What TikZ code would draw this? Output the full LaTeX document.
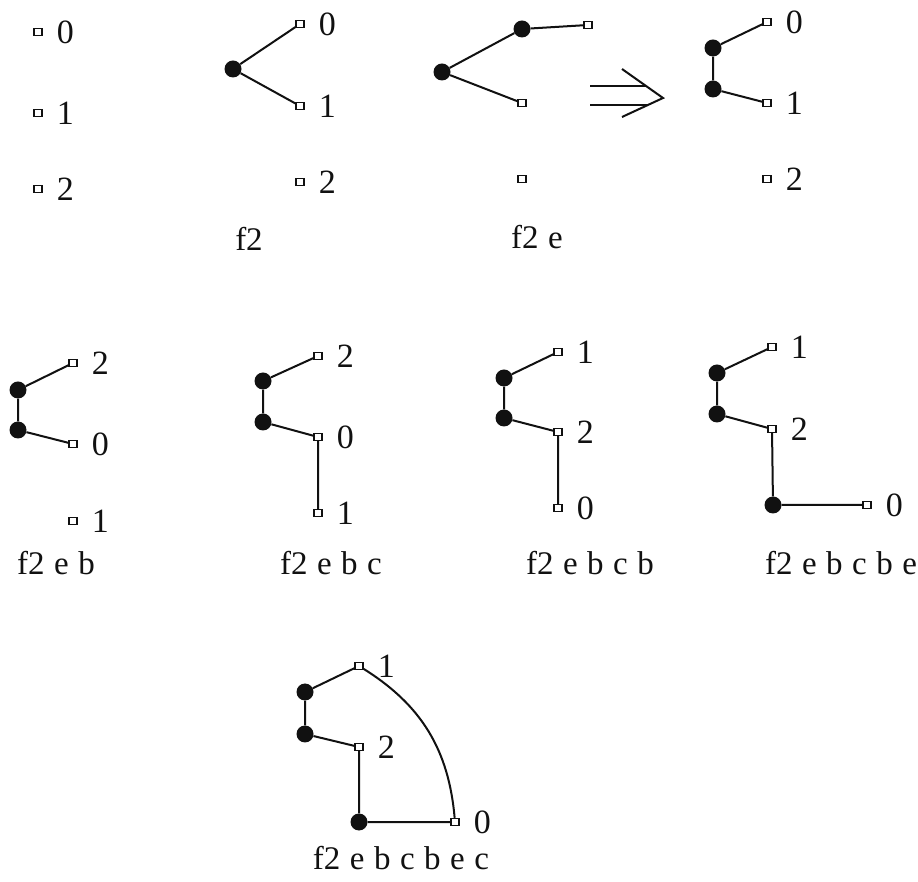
\documentclass[tikz,border=0pt]{standalone}
\usepackage{fontspec}
\setmainfont{Liberation Serif}
\usepackage{xcolor}
\usetikzlibrary{positioning}
\definecolor{ink}{HTML}{111111}
\newcommand\capfont{\fontsize{33}{40}\selectfont\spaceskip=9.5pt\relax}
\tikzset{
  leaf/.style={draw=ink, fill=white, rectangle, line width=1.4pt,
               minimum width=8pt, minimum height=7pt, inner sep=0pt},
  joint/.style={circle, fill=ink, minimum size=17pt, inner sep=0pt},
  edge/.style={draw=ink, line width=2pt},
  lbl/.style={font=\fontsize{34}{40}\selectfont, text=ink, inner sep=0pt},
  caption/.style={font=\capfont, text=ink, inner sep=0pt},
  every label/.style={lbl}, label distance=14pt
}
\begin{document}
\begin{tikzpicture}[x=1pt,y=1pt]
        \useasboundingbox (0,0) rectangle (918,881);

        % row 1
        \foreach \y/\n in {849/0,768/1,692/2}
          {\node[leaf,label=right:\n] (p1s\n) at (38,\y) {};}

        \node[joint] (p2d) at (233,812) {};
        \node[leaf,label=right:0] (p2s0) at (300,857) {};
        \node[leaf,label=right:1] (p2s1) at (300,775) {};
        \node[leaf,label=right:2] (p2s2) at (300,699) {};
        \draw[edge] (p2d) -- (p2s0);
        \draw[edge] (p2d) -- (p2s1);
        \node[caption] (p2c) at (249,642) {f2};

        \node[joint] (p3dl) at (442,809) {};
        \node[joint] (p3du) at (522,852) {};
        \node[leaf] (p3sr) at (588,856) {};
        \node[leaf] (p3sm) at (522,778) {};
        \node[leaf] (p3sb) at (522,702) {};
        \draw[edge] (p3dl) -- (p3du) -- (p3sr);
        \draw[edge] (p3dl) -- (p3sm);
        \node[caption] (p3c) at (537,644) {f2 e};

        % implies sign
        \draw[edge] (590,795) -- (646,795) (590,776) -- (648,776);
        \draw[edge] (622,812) -- (663,783) -- (622,764);

        \node[joint] (p4d1) at (713,833) {};
        \node[joint] (p4d2) at (713,792) {};
        \node[leaf,label=right:0] (p4s0) at (767,859) {};
        \node[leaf,label=right:1] (p4s1) at (767,778) {};
        \node[leaf,label=right:2] (p4s2) at (767,702) {};
        \draw[edge] (p4s0) -- (p4d1) -- (p4d2) -- (p4s1);

        % row 2
        \node[joint] (p5d1) at (18,491) {};
        \node[joint] (p5d2) at (18,451) {};
        \node[leaf,label=right:2] (p5s2) at (73,518) {};
        \node[leaf,label=right:0] (p5s0) at (73,437) {};
        \node[leaf,label=right:1] (p5s1) at (73,360) {};
        \draw[edge] (p5s2) -- (p5d1) -- (p5d2) -- (p5s0);
        \node[caption] (p5c) at (56,318) {f2 e b};

        \node[joint] (p6d1) at (263,500) {};
        \node[joint] (p6d2) at (263,459) {};
        \node[leaf,label=right:2] (p6s2) at (318,525) {};
        \node[leaf,label=right:0] (p6s0) at (318,444) {};
        \node[leaf,label=right:1] (p6s1) at (318,368) {};
        \draw[edge] (p6s2) -- (p6d1) -- (p6d2) -- (p6s0) -- (p6s1);
        \node[caption] (p6c) at (331,318) {f2 e b c};

        \node[joint] (p7d1) at (504,503) {};
        \node[joint] (p7d2) at (504,463) {};
        \node[leaf,label=right:1] (p7s1) at (558,529) {};
        \node[leaf,label=right:2] (p7s2) at (558,449) {};
        \node[leaf,label=right:0] (p7s0) at (558,373) {};
        \draw[edge] (p7s1) -- (p7d1) -- (p7d2) -- (p7s2) -- (p7s0);
        \node[caption] (p7c) at (590,318) {f2 e b c b};

        \node[joint] (p8d1) at (717,508) {};
        \node[joint] (p8d2) at (717,467) {};
        \node[joint] (p8d3) at (773,376) {};
        \node[leaf,label=right:1] (p8s1) at (772,534) {};
        \node[leaf,label=right:2] (p8s2) at (772,452) {};
        \node[leaf,label=right:0] (p8s0) at (867,376) {};
        \draw[edge] (p8s1) -- (p8d1) -- (p8d2) -- (p8s2) -- (p8d3) -- (p8s0);
        \node[caption] (p8c) at (841,318) {f2 e b c b e};

        % row 3
        \node[joint] (p9d1) at (305,189) {};
        \node[joint] (p9d2) at (305,147) {};
        \node[joint] (p9d3) at (359,59) {};
        \node[leaf,label=right:1] (p9s1) at (359,215) {};
        \node[leaf,label=right:2] (p9s2) at (359,134) {};
        \node[leaf,label=right:0] (p9s0) at (455,59) {};
        \draw[edge] (p9s1) -- (p9d1) -- (p9d2) -- (p9s2) -- (p9d3) -- (p9s0);
        \draw[edge] (p9s1) to[out=-32,in=95] (p9s0);
        \node[caption] (p9c) at (401,23) {f2 e b c b e c};
      \end{tikzpicture}
\end{document}
